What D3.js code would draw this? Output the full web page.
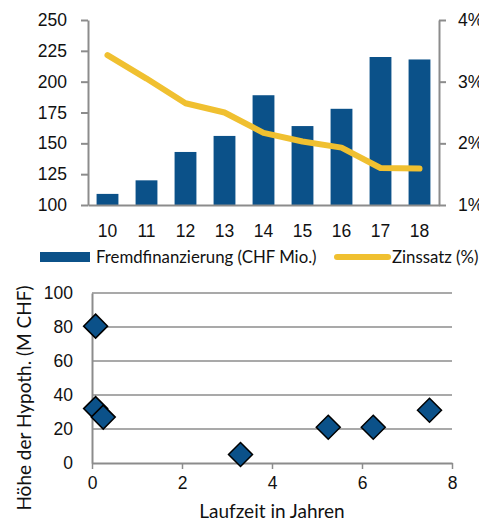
<!DOCTYPE html>
<html>
<head>
<meta charset="utf-8">
<script src="https://cdn.jsdelivr.net/npm/d3@7"></script>
<style>
  body { margin: 0; background: #fff; }
  svg { font-family: Lato, "Open Sans", sans-serif; }
</style>
</head>
<body>
<svg id="chart" width="479" height="524"></svg>
<script>
// top chart
const years = ['10', '11', '12', '13', '14', '15', '16', '17', '18'];
const fremd = [109, 120, 143, 156, 189, 164, 178, 220, 218];
const zins = [3.43, 3.05, 2.65, 2.5, 2.17, 2.03, 1.93, 1.6, 1.59];
const leftTicks = [100, 125, 150, 175, 200, 225, 250];
const rightTicks = [1, 2, 3, 4];

// bottom chart
const laufzeit = [0.08, 0.08, 0.25, 3.3, 5.25, 6.25, 7.5];
const hoehe = [80.5, 32, 27, 5, 21, 21, 31];
const yTicks2 = [0, 20, 40, 60, 80, 100];
const xTicks2 = [0, 2, 4, 6, 8];

const blue = '#0b5189';
const yellow = '#f0c030';
const grey = '#8c8c8c';

const svg = d3.select('#chart');

function drawTop() {
    const left = 88, right = 439, top = 20, bottom = 205;

    const x = d3.scaleBand().domain(years).range([left, right]).paddingInner(0.44).paddingOuter(0.22);
    const y = d3.scaleLinear().domain([100, 250]).range([bottom, top]);
    const y2 = d3.scaleLinear().domain([1, 4]).range([bottom, top]);

    const g = svg.append('g');

    g.selectAll('rect.bar')
        .data(years)
        .enter().append('rect')
        .attr('class', 'bar')
        .attr('x', d => x(d))
        .attr('y', (d, i) => y(fremd[i]))
        .attr('width', x.bandwidth())
        .attr('height', (d, i) => bottom - y(fremd[i]))
        .attr('fill', blue);

    const line = d3.line()
        .x((d, i) => x(years[i]) + x.bandwidth() / 2)
        .y(d => y2(d));

    g.append('path')
        .datum(zins)
        .attr('d', line)
        .attr('fill', 'none')
        .attr('stroke', yellow)
        .attr('stroke-width', 6)
        .attr('stroke-linecap', 'round')
        .attr('stroke-linejoin', 'round');

    // left axis
    const ax = g.append('g')
        .attr('transform', `translate(${left},0)`)
        .call(d3.axisLeft(y).tickValues(leftTicks).tickSize(7).tickSizeOuter(0).tickPadding(14));
    ax.select('.domain').attr('stroke', grey).attr('stroke-width', 2);
    ax.selectAll('.tick line').attr('stroke', grey).attr('stroke-width', 2);
    ax.selectAll('text').attr('font-size', 17.5).attr('fill', '#111');

    // right axis
    const ar = g.append('g')
        .attr('transform', `translate(${right},0)`)
        .call(d3.axisRight(y2).tickValues(rightTicks).tickSize(7).tickSizeOuter(0).tickPadding(12).tickFormat(d => d + '%'));
    ar.select('.domain').attr('stroke', grey).attr('stroke-width', 2);
    ar.selectAll('.tick line').attr('stroke', grey).attr('stroke-width', 2);
    ar.selectAll('text').attr('font-size', 17.5).attr('fill', '#111');

    // x axis
    const axb = g.append('g')
        .attr('transform', `translate(0,${bottom})`)
        .call(d3.axisBottom(x).tickSize(0).tickPadding(20));
    axb.select('.domain').attr('stroke', grey).attr('stroke-width', 2);
    axb.selectAll('text').attr('font-size', 17.5).attr('fill', '#111');

    // legend
    const lg = g.append('g');
    lg.append('rect').attr('x', 40).attr('y', 252).attr('width', 50).attr('height', 10).attr('fill', blue);
    lg.append('text').attr('x', 96).attr('y', 263).attr('font-size', 16.8).attr('fill', '#111')
        .text('Fremdfinanzierung (CHF Mio.)');
    lg.append('line').attr('x1', 337).attr('x2', 388).attr('y1', 257).attr('y2', 257)
        .attr('stroke', yellow).attr('stroke-width', 6).attr('stroke-linecap', 'round');
    lg.append('text').attr('x', 392).attr('y', 263).attr('font-size', 16.8).attr('fill', '#111')
        .text('Zinssatz (%)');
}

function drawBottom() {
    const left = 92, right = 452, top = 293, bottom = 463;

    const x = d3.scaleLinear().domain([0, 8]).range([left, right]);
    const y = d3.scaleLinear().domain([0, 100]).range([bottom, top]);

    const g = svg.append('g');

    // gridlines
    g.selectAll('line.grid')
        .data(yTicks2.filter(d => d > 0))
        .enter().append('line')
        .attr('class', 'grid')
        .attr('x1', left).attr('x2', right)
        .attr('y1', d => y(d)).attr('y2', d => y(d))
        .attr('stroke', grey).attr('stroke-width', 1.5);

    const ay = g.append('g')
        .attr('transform', `translate(${left},0)`)
        .call(d3.axisLeft(y).tickValues(yTicks2).tickSize(0).tickPadding(19));
    ay.select('.domain').attr('stroke', grey).attr('stroke-width', 2);
    ay.selectAll('text').attr('font-size', 17.5).attr('fill', '#111');

    const ax = g.append('g')
        .attr('transform', `translate(0,${bottom})`)
        .call(d3.axisBottom(x).tickValues(xTicks2).tickSize(6).tickSizeOuter(0).tickPadding(8));
    ax.select('.domain').attr('stroke', grey).attr('stroke-width', 2);
    ax.selectAll('.tick line').attr('stroke', grey).attr('stroke-width', 1.5);
    ax.selectAll('text').attr('font-size', 17.5).attr('fill', '#111');

    // diamonds
    const diamond = 'M0,-12L12,0L0,12L-12,0Z';
    g.selectAll('path.pt')
        .data(laufzeit)
        .enter().append('path')
        .attr('class', 'pt')
        .attr('d', diamond)
        .attr('transform', (d, i) => `translate(${x(d)},${y(hoehe[i])})`)
        .attr('fill', blue)
        .attr('stroke', '#000')
        .attr('stroke-width', 1.5);

    g.append('text')
        .attr('x', 272).attr('y', 518)
        .attr('text-anchor', 'middle').attr('font-size', 19).attr('fill', '#111')
        .text('Laufzeit in Jahren');

    g.append('text')
        .attr('transform', `translate(31,398) rotate(-90)`)
        .attr('text-anchor', 'middle').attr('font-size', 19).attr('fill', '#111')
        .text('Höhe der Hypoth. (M CHF)');
}

drawTop();
drawBottom();
</script>
</body>
</html>
